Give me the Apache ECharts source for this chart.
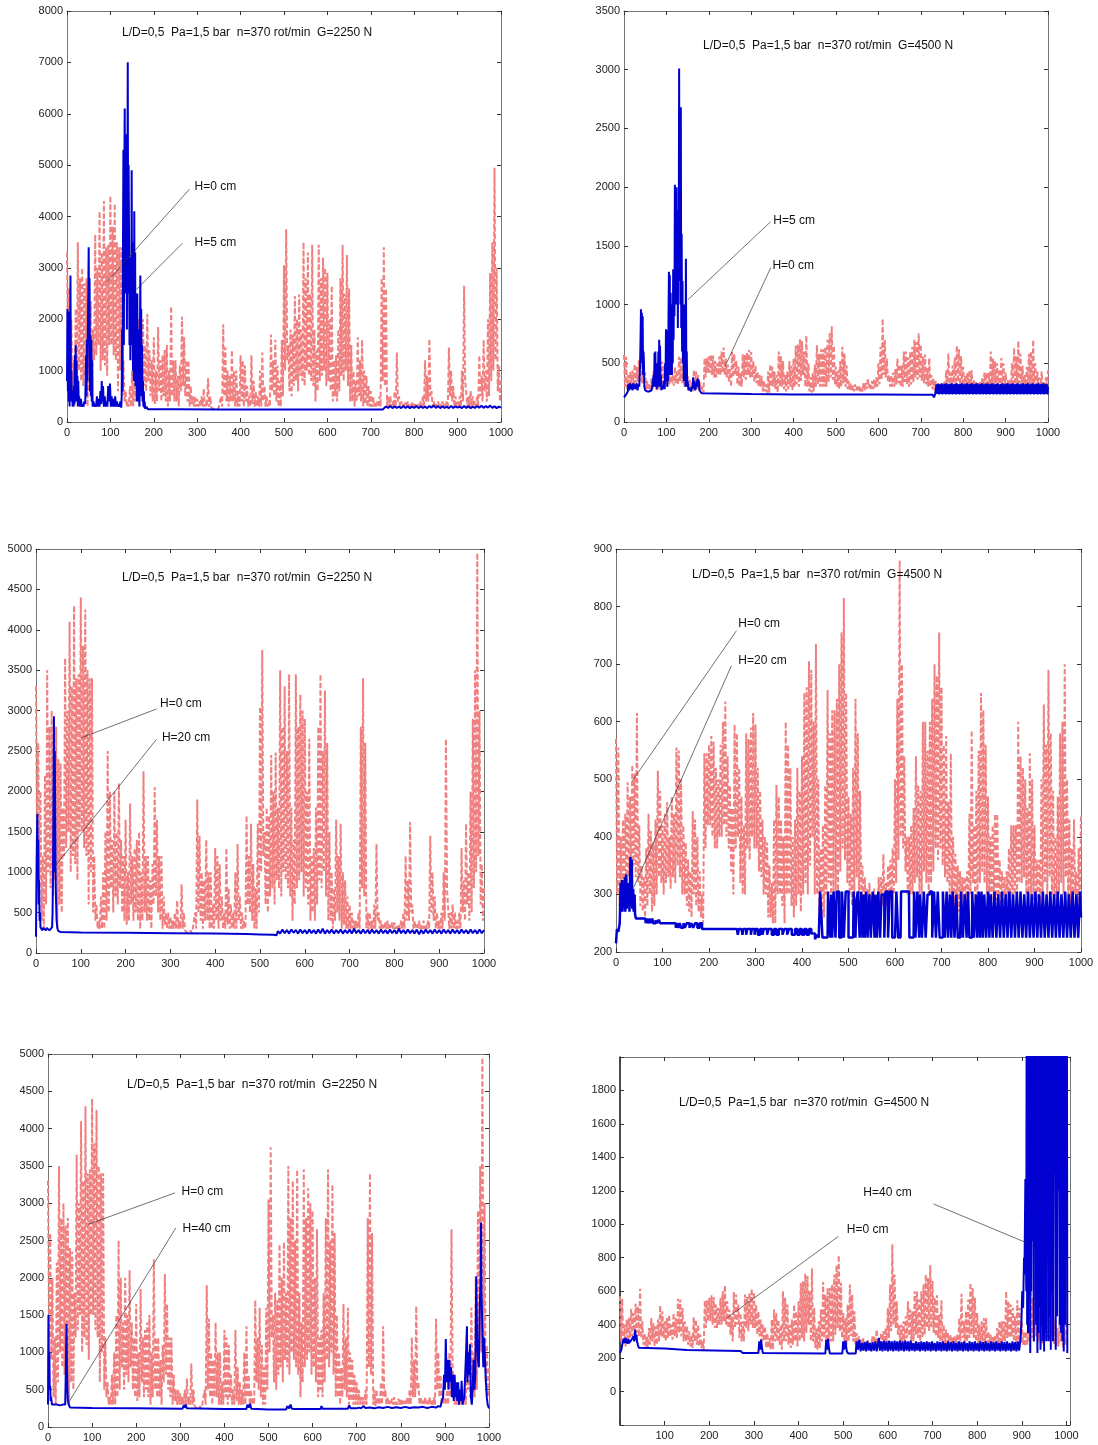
<!DOCTYPE html>
<html><head><meta charset="utf-8">
<script src="https://cdn.jsdelivr.net/npm/echarts@6/dist/echarts.min.js"></script>
<style>html,body{margin:0;padding:0;background:#fff}#c{width:1098px;height:1445px}</style>
</head><body><div id="c"></div>
<script>
// ---- DATA ----
// H=0 cm series: spike tops at x = 0,5,10,...,1000 and troughs at x = 2.5,7.5,...,997.5
const STEP = 5;
const pinkTop_G2250 = [
 3300,2600,2000,1200,2200,3500,2800,3000,2700,2800,
 2400,2350,1800,3650,3000,4100,3300,4300,3400,3450,
 4400,3800,4250,3500,3400,3400,1200,600,400,700,
 1000,1500,2500,2000,1400,2000,1500,2100,1400,1200,
 1650,1000,1850,1200,1300,1400,1500,1000,2250,1200,
 1200,900,1100,2050,1650,1200,1200,700,500,500,
 450,400,500,650,400,850,500,300,250,280,
 300,500,1900,1450,1000,900,1400,1000,1000,600,
 1300,1200,1100,700,500,1300,800,600,500,1000,
 1350,700,500,400,1700,1200,1600,1100,800,1600,
 3050,3750,1500,1800,1700,2450,2000,2480,1800,3500,
 2800,3300,2500,3450,1800,1400,3450,2800,3200,3000,
 2900,2000,2650,1200,1300,1800,2800,3450,2500,3250,
 2600,1500,1000,800,1650,1200,1600,1000,900,700,
 600,500,400,400,500,2800,3400,2600,500,500,
 400,600,1350,500,400,350,380,400,350,380,
 380,350,350,400,500,1200,900,1620,600,400,
 350,400,350,400,350,400,1450,1000,700,500,
 400,500,1000,2650,800,500,600,500,400,500,
 1300,900,1600,1000,2000,2900,3500,4950,3000,1100,
 800];
const pinkLow_G2250 = [
 1200,900,400,300,600,1000,800,700,900,300,
 600,500,1200,1300,1500,1000,1200,1100,900,1500,
 1500,1300,1200,600,1000,500,400,300,300,300,
 300,400,500,800,500,700,600,800,500,400,
 350,400,600,400,500,400,300,400,500,400,
 400,300,600,700,500,400,300,350,300,300,
 300,300,300,300,300,300,280,250,250,250,
 280,300,500,400,300,400,400,300,300,300,
 400,300,400,300,300,350,300,300,300,300,
 400,300,300,300,600,500,400,300,300,500,
 1000,1200,600,500,700,800,600,900,800,700,
 1000,900,800,700,400,600,800,900,1000,700,
 800,600,400,500,400,600,900,800,1000,700,
 400,400,300,400,500,400,300,350,300,300,
 300,300,300,300,300,800,700,300,280,300,
 300,300,400,300,300,300,300,300,300,300,
 300,300,300,300,300,400,400,500,300,300,
 300,300,300,300,300,300,500,400,300,300,
 300,300,400,800,300,300,300,300,300,300,
 500,400,600,400,500,800,1000,1200,600,400];
const pinkTop_G4500 = [
 570,555,400,430,440,495,470,525,510,615,
 420,350,330,380,440,410,390,430,515,480,
 420,440,460,400,470,440,555,550,500,420,
 390,360,340,445,430,400,340,300,545,545,
 560,575,565,520,500,560,600,635,540,490,
 450,595,580,520,470,420,580,570,590,615,
 595,520,480,430,400,390,350,320,430,490,
 470,430,400,600,560,520,400,430,520,480,
 540,650,660,705,690,600,735,500,380,420,
 490,655,580,620,620,640,700,755,815,650,
 470,440,520,640,580,480,350,330,310,320,
 300,310,290,330,330,370,320,350,360,380,
 500,640,880,700,540,400,400,420,450,540,
 490,480,600,600,550,600,640,700,680,755,
 660,560,575,460,545,400,370,350,340,330,
 330,340,440,585,420,480,550,650,620,560,
 470,400,420,440,440,360,340,330,340,380,
 420,420,420,600,540,520,500,450,545,500,
 420,360,360,500,630,560,690,580,480,400,
 470,580,600,700,500,430,380,430,340,380,
 440];
const pinkLow_G4500 = [
 300,280,270,300,320,330,340,350,330,320,
 280,270,260,280,300,270,280,300,330,320,
 300,320,330,310,330,320,350,330,300,300,
 280,270,260,300,280,270,260,250,380,420,
 420,400,380,380,400,400,420,400,380,340,
 300,380,400,320,300,300,380,360,400,380,
 380,340,330,300,300,260,260,250,250,300,
 300,280,250,300,300,280,260,280,300,270,
 300,320,300,350,400,300,300,260,250,260,
 300,320,300,300,300,300,340,380,360,320,
 300,280,300,330,300,280,270,260,260,270,
 270,260,260,270,280,290,280,280,290,300,
 320,360,400,380,340,300,300,300,320,330,
 300,300,340,320,300,320,340,380,360,380,
 350,330,320,300,300,280,270,270,270,270,
 280,280,300,320,290,300,320,340,320,300,
 290,290,300,290,290,280,270,270,280,280,
 280,300,300,320,320,330,300,290,300,290,
 280,270,280,300,320,300,330,300,280,280,
 300,320,300,330,280,270,270,300,260,280];
const blueH5_G2250 = [[0,800],[1,2200],[2,600],[3,2150],[4,400],[5,900],[6,300],[7,1100],[8,2850],[9,700],[10,1000],[11,400],[12,600],[13,300],[14,500],[15,300],[16,700],[17,350],[18,1300],[19,400],[20,1500],[21,500],[22,1200],[23,400],[24,900],[25,300],[26,800],[27,350],[28,500],[30,300],[32,450],[34,300],[36,350],[38,300],[40,400],[42,350],[44,1300],[45,500],[46,1600],[47,800],[48,1700],[49,2500],[50,3400],[51,1500],[52,2800],[53,600],[54,1700],[55,500],[56,1600],[57,400],[58,1200],[59,300],[61,400],[63,300],[65,350],[67,300],[69,500],[71,300],[73,450],[75,300],[77,600],[79,350],[80,800],[81,400],[83,700],[85,300],[87,500],[89,300],[91,400],[93,300],[95,700],[97,400],[99,750],[101,300],[103,500],[105,300],[107,450],[109,300],[111,500],[113,300],[115,400],[117,300],[119,350],[121,300],[123,400],[125,280],[126,500],[127,1800],[128,600],[129,3500],[130,5300],[131,1500],[132,4500],[133,6100],[134,2500],[135,4200],[136,3000],[137,5600],[138,1800],[139,4000],[140,7000],[141,2500],[142,5000],[143,3500],[144,1500],[145,3200],[146,1200],[147,3000],[148,1500],[149,4900],[150,2000],[151,3500],[152,1000],[153,2600],[154,800],[155,4100],[156,1200],[157,3300],[158,700],[159,2500],[160,1500],[161,400],[162,2500],[163,600],[164,1800],[165,400],[166,500],[167,300],[168,1500],[169,2850],[170,800],[171,2200],[172,500],[173,1500],[174,400],[175,800],[176,300],[177,600],[178,280],[179,400],[180,260],[183,300],[186,250],[250,250],[350,245],[450,245],[550,245],[650,245],[728,245],[731,225],[734,300],[740,275],[745,310],[750,270],[755,305],[760,275],[765,300],[770,270],[775,310],[780,275],[785,305],[790,270],[795,300],[800,275],[805,310],[810,270],[815,305],[820,275],[825,300],[830,270],[835,310],[840,280],[845,320],[850,275],[855,310],[860,270],[865,305],[870,275],[875,300],[880,270],[885,310],[890,275],[895,305],[900,280],[905,300],[910,270],[915,310],[920,275],[925,305],[930,270],[935,300],[940,275],[945,310],[950,280],[955,315],[960,275],[965,310],[970,280],[975,320],[980,275],[985,305],[990,270],[995,300],[1000,280]];
const blueH5_G4500 = [[0,210],[3,220],[6,240],[9,260],[10,320],[12,270],[14,330],[16,280],[18,320],[20,270],[22,330],[24,280],[26,320],[28,280],[30,330],[32,270],[34,320],[36,300],[38,500],[39,700],[40,960],[41,600],[42,930],[43,500],[44,900],[45,400],[46,600],[47,500],[48,300],[50,270],[55,260],[60,260],[65,270],[68,260],[70,400],[71,300],[72,590],[73,350],[74,600],[75,300],[76,450],[77,280],[79,500],[80,300],[81,600],[82,350],[83,700],[84,300],[85,650],[86,350],[87,400],[88,270],[90,300],[92,280],[94,350],[96,280],[97,500],[98,350],[99,790],[100,400],[101,780],[102,300],[103,500],[104,350],[105,900],[106,1280],[107,500],[108,1250],[109,400],[110,1100],[111,600],[112,800],[113,400],[114,1000],[115,500],[116,1300],[117,700],[118,1300],[119,900],[120,2020],[121,1000],[122,1900],[123,1200],[124,2000],[125,1000],[126,1700],[127,800],[128,1800],[129,1200],[130,3010],[131,1500],[132,2200],[133,1000],[134,2680],[135,800],[136,1600],[137,600],[138,1200],[139,500],[140,900],[141,350],[142,1000],[143,400],[144,700],[145,300],[146,1390],[147,400],[148,600],[149,300],[150,350],[152,270],[155,290],[158,260],[160,300],[162,280],[163,380],[164,290],[166,350],[168,270],[170,260],[172,280],[174,370],[175,300],[176,360],[178,270],[180,260],[183,245],[186,235],[300,238],[400,235],[500,235],[600,235],[700,232],[728,232],[731,210],[734,240],[737,320],[739,240],[741,325],[743,235],[745,320],[747,240],[749,330],[751,235],[753,320],[755,240],[757,325],[759,235],[761,330],[763,240],[765,320],[767,235],[769,325],[771,240],[773,330],[775,235],[777,320],[779,240],[781,325],[783,235],[785,330],[787,240],[789,320],[791,235],[793,325],[795,240],[797,330],[799,235],[801,320],[803,240],[805,325],[807,235],[809,330],[811,240],[813,320],[815,235],[817,325],[819,240],[821,330],[823,235],[825,320],[827,240],[829,325],[831,235],[833,330],[835,240],[837,320],[839,235],[841,325],[843,240],[845,330],[847,235],[849,320],[851,240],[853,325],[855,235],[857,330],[859,240],[861,320],[863,235],[865,325],[867,240],[869,330],[871,235],[873,320],[875,240],[877,325],[879,235],[881,330],[883,240],[885,320],[887,235],[889,325],[891,240],[893,330],[895,235],[897,320],[899,240],[901,325],[903,235],[905,330],[907,240],[909,320],[911,235],[913,325],[915,240],[917,330],[919,235],[921,320],[923,240],[925,325],[927,235],[929,330],[931,240],[933,320],[935,235],[937,325],[939,240],[941,330],[943,235],[945,320],[947,240],[949,325],[951,235],[953,330],[955,240],[957,320],[959,235],[961,325],[963,240],[965,330],[967,235],[969,320],[971,240],[973,325],[975,235],[977,330],[979,240],[981,320],[983,235],[985,325],[987,240],[989,330],[991,235],[993,320],[995,240],[997,325],[999,235],[1000,300]];
const blueH20_G2250 = [[0,200],[1,900],[2,1400],[3,1720],[4,1000],[5,1400],[6,600],[7,900],[8,400],[9,500],[10,320],[12,300],[14,280],[16,310],[18,290],[20,300],[22,280],[24,310],[26,290],[28,300],[30,280],[32,300],[34,290],[36,320],[37,500],[38,1000],[39,2000],[40,2930],[41,1000],[42,2500],[43,1600],[44,800],[45,600],[46,400],[48,300],[50,270],[55,260],[100,255],[200,250],[300,245],[400,240],[470,235],[500,230],[530,225],[537,220],[540,270],[545,240],[550,290],[555,245],[560,285],[565,240],[570,290],[575,250],[580,285],[585,240],[590,290],[595,245],[600,285],[605,240],[610,290],[615,245],[620,285],[625,240],[630,290],[635,245],[640,300],[645,240],[650,285],[655,245],[660,290],[665,240],[670,285],[675,245],[680,290],[685,240],[690,285],[695,245],[700,290],[705,240],[710,300],[715,245],[720,285],[725,240],[730,290],[735,245],[740,285],[745,240],[750,290],[755,245],[760,285],[765,240],[770,290],[775,245],[780,285],[785,240],[790,290],[795,245],[800,285],[805,240],[810,300],[815,245],[820,285],[825,240],[830,290],[835,245],[840,285],[845,240],[850,290],[855,230],[860,285],[865,240],[870,290],[875,245],[880,285],[885,240],[890,290],[895,245],[900,285],[905,240],[910,290],[915,245],[920,285],[925,240],[930,290],[935,245],[940,285],[945,240],[950,290],[955,245],[960,285],[965,240],[970,290],[975,245],[980,285],[985,240],[990,290],[995,245],[1000,285]];
const blueH20_G4500 = [[0,215],[2,240],[5,235],[8,250],[10,320],[11,275],[13,325],[14,270],[16,310],[17,280],[19,330],[20,270],[22,335],[23,275],[25,320],[26,280],[28,310],[29,270],[31,365],[32,280],[34,360],[35,275],[37,310],[38,270],[40,300],[41,265],[43,258],[63,258],[64,250],[66,258],[70,250],[72,258],[75,250],[78,258],[80,250],[85,255],[88,250],[92,256],[95,250],[128,250],[129,242],[131,250],[134,242],[137,250],[140,242],[145,250],[148,242],[152,250],[158,242],[162,250],[166,242],[170,250],[175,242],[180,250],[185,240],[260,240],[262,230],[264,240],[270,240],[272,230],[274,240],[280,230],[282,240],[290,230],[292,240],[298,230],[300,240],[305,230],[310,240],[315,230],[318,240],[325,230],[328,240],[335,230],[340,240],[345,230],[350,240],[358,230],[362,240],[368,230],[372,240],[378,230],[385,240],[390,230],[395,240],[400,230],[405,240],[410,230],[415,240],[420,232],[428,222],[432,230],[436,225],[439,305],[443,305],[444,225],[455,225],[456,305],[460,305],[461,225],[463,300],[465,225],[468,305],[472,225],[475,305],[480,225],[485,225],[486,305],[490,225],[494,305],[498,305],[500,225],[510,225],[511,305],[515,225],[517,290],[520,305],[524,225],[527,305],[530,225],[533,300],[535,225],[538,305],[541,225],[545,300],[548,225],[552,305],[556,225],[558,300],[561,225],[564,305],[568,225],[571,300],[574,300],[577,225],[580,305],[585,225],[589,305],[594,225],[600,225],[603,305],[607,225],[612,225],[613,305],[630,305],[631,225],[640,225],[641,305],[644,225],[648,305],[652,225],[654,300],[658,225],[662,305],[666,225],[670,300],[672,300],[675,305],[680,225],[684,305],[688,225],[692,305],[696,225],[700,225],[703,305],[707,225],[711,305],[714,225],[718,300],[721,225],[724,305],[728,225],[732,300],[735,225],[740,225],[742,305],[746,225],[750,300],[754,225],[757,305],[760,225],[764,225],[766,305],[770,225],[774,300],[777,225],[780,305],[783,225],[786,305],[789,225],[792,300],[796,225],[800,305],[803,225],[806,300],[810,225],[814,305],[818,225],[822,300],[826,225],[830,305],[834,225],[838,300],[842,225],[846,305],[850,225],[854,300],[858,225],[862,305],[866,225],[870,305],[874,225],[878,300],[882,225],[886,305],[890,225],[894,300],[898,225],[902,305],[906,225],[910,300],[914,225],[918,305],[922,225],[926,300],[930,225],[934,305],[938,225],[942,300],[946,225],[950,305],[954,225],[958,300],[962,225],[966,305],[970,225],[974,300],[978,225],[982,305],[986,225],[990,300],[994,225],[998,305],[1000,260]];
const blueH40_G2250 = [[0,300],[1,1500],[2,800],[3,1000],[4,500],[5,550],[6,350],[7,400],[9,300],[12,280],[15,300],[18,280],[21,300],[24,280],[27,290],[30,280],[33,300],[36,280],[39,300],[40,600],[41,1000],[42,1380],[43,800],[44,500],[45,350],[47,300],[50,260],[100,255],[200,250],[305,245],[308,290],[310,260],[312,300],[315,250],[318,245],[400,240],[450,240],[452,300],[455,260],[458,310],[461,245],[500,235],[540,235],[543,280],[547,250],[550,300],[553,245],[560,240],[618,240],[620,280],[623,245],[680,245],[683,290],[686,250],[700,250],[705,260],[710,250],[715,280],[720,255],[730,260],[740,250],[750,265],[760,255],[770,270],[780,255],[790,265],[800,255],[810,270],[820,255],[830,265],[840,260],[850,270],[860,255],[870,270],[880,260],[885,280],[890,270],[893,350],[896,400],[898,700],[900,500],[902,1180],[904,600],[906,900],[908,500],[910,900],[912,600],[914,800],[916,400],[918,700],[920,350],[922,700],[924,400],[926,600],[928,350],[930,600],[932,300],[934,500],[936,350],[938,620],[940,300],[942,350],[944,400],[946,700],[948,1000],[950,1350],[951,600],[953,1000],[955,700],[957,1110],[959,400],[961,300],[963,500],[965,900],[967,500],[969,700],[971,2020],[973,1200],[975,900],[977,800],[979,1600],[981,2000],[982,2740],[983,1800],[985,1300],[987,800],[989,1200],[991,900],[993,600],[995,400],[997,300],[1000,250]];
const blueH40_G4500 = [[0,230],[3,250],[5,260],[7,310],[8,290],[10,320],[11,290],[13,320],[14,290],[16,310],[17,285],[19,315],[20,290],[22,300],[24,290],[26,310],[28,300],[30,330],[32,300],[34,370],[35,310],[37,340],[38,300],[40,280],[42,262],[100,258],[102,250],[150,248],[152,242],[270,242],[275,230],[310,230],[312,300],[314,250],[316,310],[318,260],[320,230],[460,228],[462,310],[464,250],[466,315],[468,260],[470,228],[498,228],[500,300],[502,250],[505,305],[508,240],[511,228],[528,228],[530,300],[533,250],[536,310],[539,240],[542,290],[545,245],[548,295],[551,240],[554,300],[557,245],[560,290],[563,240],[566,295],[569,245],[572,300],[575,240],[578,290],[580,320],[582,245],[585,300],[588,240],[591,305],[594,245],[597,300],[600,240],[603,305],[606,245],[609,300],[612,240],[615,305],[618,245],[621,300],[624,240],[627,305],[630,245],[633,300],[636,240],[639,305],[642,245],[645,300],[648,240],[651,305],[654,245],[657,290],[660,240],[663,300],[666,245],[669,295],[672,240],[675,300],[678,245],[681,295],[684,240],[687,300],[690,245],[693,295],[696,240],[699,300],[702,245],[705,290],[708,240],[711,300],[714,245],[717,295],[720,240],[723,300],[726,245],[729,290],[732,240],[735,300],[738,245],[741,295],[744,240],[747,300],[750,245],[753,290],[756,240],[759,300],[762,245],[765,295],[768,240],[771,300],[774,245],[777,290],[780,240],[783,300],[786,245],[789,295],[792,240],[795,300],[798,245],[801,290],[804,240],[807,300],[810,245],[813,295],[816,240],[819,300],[822,245],[825,290],[828,240],[831,300],[834,245],[837,295],[840,240],[843,300],[846,245],[849,290],[852,240],[855,300],[858,245],[861,295],[864,240],[867,300],[870,245],[873,290],[876,240],[879,300],[882,245],[885,295],[888,240],[891,300],[894,245],[897,310],[899,400],[901,600],[903,500],[905,800],[906,700],[908,1270],[910,600],[911,2500],[912,400],[913,2500],[914,350],[915,2500],[916,800],[917,2500],[919,230],[920,2500],[921,600],[922,2500],[923,900],[924,2500],[926,2500],[927,300],[928,2500],[930,1400],[931,2500],[932,400],[933,2500],[935,230],[936,2500],[937,350],[938,2500],[940,500],[941,2500],[942,250],[943,2500],[945,400],[946,2500],[947,300],[948,2500],[950,240],[951,2500],[952,350],[953,2500],[955,300],[956,2500],[958,1100],[959,2500],[960,300],[961,2500],[963,450],[964,2500],[965,250],[966,2500],[968,600],[969,2500],[970,300],[971,2500],[973,1300],[974,2500],[976,250],[977,2500],[979,450],[980,2500],[982,1200],[983,2500],[985,400],[986,2500],[988,350],[989,2500],[991,300],[992,2500],[994,240],[995,2500],[997,400],[998,2500],[1000,1700],[1001,2500],[1002,230]];

const titles = [
 'L/D=0,5  Pa=1,5 bar  n=370 rot/min  G=2250 N',
 'L/D=0,5  Pa=1,5 bar  n=370 rot/min  G=4500 N',
 'L/D=0,5  Pa=1,5 bar  n=370 rot/min  G=2250 N',
 'L/D=0,5  Pa=1,5 bar  n=370 rot/min  G=4500 N',
 'L/D=0,5  Pa=1,5 bar  n=370 rot/min  G=2250 N',
 'L/D=0,5  Pa=1,5 bar  n=370 rot/min  G=4500 N'
];
// axis ranges [min, max, interval]
const xRanges = [[0,1000,100],[0,1000,100],[0,1000,100],[0,1000,100],[0,1000,100],[0,1008,100]];
const yRanges = [[0,8000,1000],[0,3500,500],[0,5000,500],[200,900,100],[0,5000,500],[-200,2000,200]];
// annotations: label text, label anchor, leader line start and end (data coords)
const notes = [
 [['H=0 cm',[294,4590],[282,4530],[91,2720]], ['H=5 cm',[294,3500],[266,3480],[160,2580]]],
 [['H=5 cm',[352,1717],[346,1706],[151,1042]], ['H=0 cm',[350,1334],[346,1314],[238,472]]],
 [['H=0 cm',[277,3080],[269,3020],[102,2665]], ['H=20 cm',[281,2665],[269,2645],[42,1070]]],
 [['H=0 cm',[263,770],[259,758],[35,497]], ['H=20 cm',[263,706],[248,697],[38,312]]],
 [['H=0 cm',[303,3160],[288,3138],[91,2716]], ['H=40 cm',[305,2657],[290,2670],[45,312]]],
 [['H=40 cm',[545,1190],[702,1122],[911,889]], ['H=0 cm',[508,966],[489,927],[240,441]]]
];

function pinkSeries(tops, lows) {
  const out = [];
  tops.forEach((v, k) => {
    out.push([k*STEP, v]);
    if (k < lows.length) out.push([k*STEP + STEP/2, lows[k]]);
  });
  return out;
}
const pinkA = pinkSeries(pinkTop_G2250, pinkLow_G2250);
const pinkB = pinkSeries(pinkTop_G4500, pinkLow_G4500);
const blueSets = [blueH5_G2250, blueH5_G4500, blueH20_G2250, blueH20_G4500, blueH40_G2250, blueH40_G4500];
const pinkSets = [pinkA, pinkB, pinkA, pinkB, pinkA, pinkB];

// ---- LAYOUT / STYLE ----
const grids = [
 {left:67, top:11, width:434, height:411},
 {left:624, top:11, width:424, height:411},
 {left:36, top:549, width:448, height:404},
 {left:616, top:549, width:465, height:403},
 {left:48, top:1054, width:441, height:373},
 {left:620, top:1057, width:450, height:368}
];
const titlePos = [[122,27],[703,40],[122,572],[692,569],[127,1079],[679,1097]];
const FONT = 'Liberation Sans, Arial, sans-serif';
const PINK = '#F08080', BLUE = '#0000D0';

const xAxes = [], yAxes = [], series = [], title = [];
grids.forEach((g, i) => {
  const [xmin,xmax,xi] = xRanges[i], [ymin,ymax,yi] = yRanges[i];
  const mk = (extra) => Object.assign({gridIndex:i, type:'value', splitLine:{show:false},
    axisLine:{show:true, onZero:false, lineStyle:{color:'#777', width:1}},
    axisTick:{show:true, inside:true, length:4, lineStyle:{color:'#333'}}}, extra);
  const xl = {color:'#222', fontSize:11, fontFamily:FONT, margin:5,
    formatter: v => (i === 5 && (v === 0 || v % 100 !== 0)) ? '' : String(v)};
  const yl = {color:'#222', fontSize:11, fontFamily:FONT, margin:4,
    formatter: v => (i === 5 && (v < 0 || v >= 2000)) ? '' : String(v)};
  xAxes.push(mk({position:'bottom', min:xmin, max:xmax, interval:xi, axisLabel:xl}));
  xAxes.push(mk({position:'top', min:xmin, max:xmax, interval:xi, axisLabel:{show:false}}));
  const left = mk({position:'left', min:ymin, max:ymax, interval:yi, axisLabel:yl});
  if (i === 5) left.axisLine = {show:true, onZero:false, lineStyle:{color:'#111', width:1.5}};
  yAxes.push(left);
  yAxes.push(mk({position:'right', min:ymin, max:ymax, interval:yi, axisLabel:{show:false}}));
  title.push({text:titles[i], left:titlePos[i][0], top:titlePos[i][1], padding:0,
    textStyle:{fontSize:12, fontWeight:'normal', color:'#111', fontFamily:FONT}});
  series.push({type:'line', xAxisIndex:2*i, yAxisIndex:2*i, showSymbol:false, clip:true,
    data: pinkSets[i], lineStyle:{color:PINK, width:2, type:[5,2.5]}, z:2, silent:true});
  series.push({type:'line', xAxisIndex:2*i, yAxisIndex:2*i, showSymbol:false, clip:true,
    step: i === 3 ? 'end' : false,
    data: blueSets[i], lineStyle:{color:BLUE, width: i === 3 ? 2.5 : 2}, z:3, silent:true,
    markLine:{silent:true, symbol:['none','none'], animation:false, label:{show:false},
      lineStyle:{color:'#333', width:0.7, type:'solid'},
      data: notes[i].map(n => [{coord:n[2]}, {coord:n[3]}])},
    markPoint:{silent:true, symbol:'circle', symbolSize:0, animation:false,
      label:{show:true, position:'right', distance:0, formatter: p => p.name,
        color:'#111', fontSize:12, fontFamily:FONT},
      data: notes[i].map(n => ({name:n[0], coord:n[1]}))}
  });
});

const chart = echarts.init(document.getElementById('c'), null, {renderer:'canvas'});
chart.setOption({animation:false, backgroundColor:'#fff', title, grid:grids, xAxis:xAxes, yAxis:yAxes, series});
</script></body></html>
